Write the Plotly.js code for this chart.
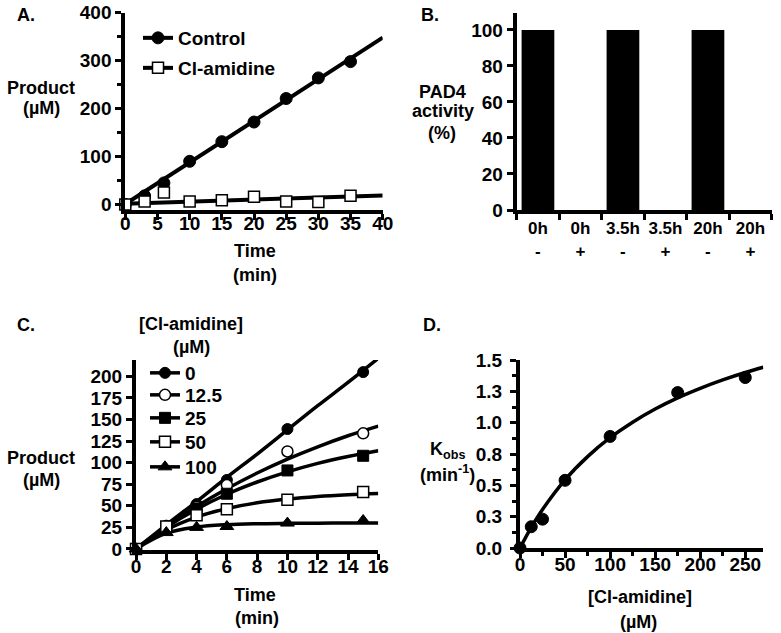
<!DOCTYPE html>
<html>
<head>
<meta charset="utf-8">
<script src="https://cdn.plot.ly/plotly-3.0.1.min.js"></script>
<style>
  html, body { margin: 0; padding: 0; background: #fff; }
  #fig { width: 781px; height: 633px; }
</style>
</head>
<body>
<div id="fig"></div>
<script>
    // Panel A: product vs time
    const timeA = [0, 3, 6, 10, 15, 20, 25, 30, 35];
    const controlA = [0, 18, 45, 90, 131, 172, 221, 264, 298];
    const clamidineA = [0, 6, 25, 6, 9, 16, 6, 5, 18];
    const fitTimeA = [0, 40];
    const controlFitA = [1, 348];
    const clamidineFitA = [1.5, 19];

    // Panel B: PAD4 activity
    const groupsB = ['0h', '0h', '3.5h', '3.5h', '20h', '20h'];
    const signB = ['-', '+', '-', '+', '-', '+'];
    const activityB = [100, 0, 100, 0, 100, 0];

    // Panel C: product vs time at several [Cl-amidine]
    const timeC = [0, 2, 4, 6, 10, 15];
    const doseC = ['0', '12.5', '25', '50', '100'];
    const prod0 = [0, 27, 52, 80, 139, 205];
    const prod12 = [0, 26, 49, 74, 113, 134];
    const prod25 = [0, 25, 47, 64, 91, 108];
    const prod50 = [0, 26, 39, 46, 57, 66];
    const prod100 = [0, 19, 25, 26, 30, 33];
    const fitTimeC = [0, 2, 4, 6, 8, 10, 12, 14, 16];
    const fit0 = [0, 28, 55, 83, 110, 138, 166, 193, 221];
    const fit12 = [0, 26.1, 49.3, 69.8, 88.0, 104.1, 118.4, 131.2, 142.4];
    const fit25 = [0, 25.2, 46.1, 63.4, 77.6, 89.4, 99.2, 107.2, 113.9];
    const fit50 = [0, 22.1, 36.9, 46.8, 53.5, 57.9, 60.9, 62.9, 64.3];
    const fit100 = [0, 18.3, 25.4, 28.2, 29.3, 29.7, 29.9, 30.0, 30.0];

    // Panel D: kobs vs [Cl-amidine]
    const inhD = [0, 12.5, 25, 50, 100, 175, 250];
    const kobsD = [0, 0.17, 0.23, 0.54, 0.89, 1.24, 1.36];
    const fitInhD = [0, 12.5, 25, 50, 75, 100, 125, 150, 175, 200, 225, 250, 270];
    const fitKobsD = [0, 0.165, 0.308, 0.544, 0.729, 0.88, 1.004, 1.109, 1.198, 1.274, 1.341, 1.40, 1.442];
    const tickValsD = [0, 0.25, 0.5, 0.75, 1.0, 1.25, 1.5];
    const tickTextD = ['0.0', '0.3', '0.5', '0.8', '1.0', '1.3', '1.5'];

    const W = 781, H = 633;
    const px = v => v / W;
    const py = v => 1 - v / H;
    const FONT = 'Liberation Sans, Arial, sans-serif';

    const filled = (symbol, size) => ({ symbol: symbol, size: size, color: 'black', line: { color: 'black', width: 1 } });
    const open = (symbol, size) => ({ symbol: symbol, size: size, color: 'white', line: { color: 'black', width: 1.5 } });

    function axis(extra) {
        return Object.assign({
            showline: true, linecolor: 'black', linewidth: 4,
            ticks: 'outside', tickcolor: 'black', tickwidth: 3, ticklen: 6,
            showgrid: false, zeroline: false, fixedrange: true,
            tickfont: { family: FONT, size: 19, color: 'black', weight: 'bold' }
        }, extra);
    }

    const traces = [];

    // A
    traces.push({ x: fitTimeA, y: controlFitA, mode: 'lines', line: { color: 'black', width: 4 }, xaxis: 'x', yaxis: 'y', showlegend: false, hoverinfo: 'skip' });
    traces.push({ x: fitTimeA, y: clamidineFitA, mode: 'lines', line: { color: 'black', width: 4 }, xaxis: 'x', yaxis: 'y', showlegend: false, hoverinfo: 'skip' });
    traces.push({ x: timeA, y: controlA, mode: 'markers', marker: filled('circle', 12), xaxis: 'x', yaxis: 'y', showlegend: false, cliponaxis: false });
    traces.push({ x: timeA, y: clamidineA, mode: 'markers', marker: open('square', 11), xaxis: 'x', yaxis: 'y', showlegend: false, cliponaxis: false });
    traces.push({ x: [null], y: [null], name: 'Control', mode: 'lines+markers', line: { color: 'black', width: 4 }, marker: filled('circle', 12), xaxis: 'x', yaxis: 'y', legend: 'legend' });
    traces.push({ x: [null], y: [null], name: 'Cl-amidine', mode: 'lines+markers', line: { color: 'black', width: 4 }, marker: open('square', 11), xaxis: 'x', yaxis: 'y', legend: 'legend2' });

    // B
    traces.push({ x: activityB.map((_, i) => i), y: activityB, type: 'bar', width: 0.77, marker: { color: 'black' }, xaxis: 'x2', yaxis: 'y2', showlegend: false });

    // C
    const fitsC = [fit0, fit12, fit25, fit50, fit100];
    const prodsC = [prod0, prod12, prod25, prod50, prod100];
    const markersC = [filled('circle', 11), open('circle', 11), filled('square', 11), open('square', 11), filled('triangle-up', 12)];
    fitsC.forEach(f => traces.push({ x: fitTimeC, y: f, mode: 'lines', line: { color: 'black', width: 3.5, shape: 'spline' }, xaxis: 'x3', yaxis: 'y3', showlegend: false, hoverinfo: 'skip' }));
    prodsC.forEach((p, i) => traces.push({ x: timeC, y: p, mode: 'markers', marker: markersC[i], xaxis: 'x3', yaxis: 'y3', showlegend: false, cliponaxis: false }));
    doseC.forEach((d, i) => traces.push({ x: [null], y: [null], name: d, mode: 'lines+markers', line: { color: 'black', width: 3.5 }, marker: markersC[i], xaxis: 'x3', yaxis: 'y3', legend: 'legend' + (i + 3) }));

    // D
    traces.push({ x: fitInhD, y: fitKobsD, mode: 'lines', line: { color: 'black', width: 3.5, shape: 'spline' }, xaxis: 'x4', yaxis: 'y4', showlegend: false, hoverinfo: 'skip' });
    traces.push({ x: inhD, y: kobsD, mode: 'markers', marker: filled('circle', 12), xaxis: 'x4', yaxis: 'y4', showlegend: false, cliponaxis: false });

    const ann = (x, y, text, size) => ({
        xref: 'paper', yref: 'paper', x: px(x), y: py(y), text: text, showarrow: false,
        xanchor: 'center', yanchor: 'middle', align: 'center',
        font: { family: FONT, size: size || 18, color: 'black', weight: 'bold' }
    });

    const legendFont = { family: FONT, size: 19, color: 'black', weight: 'bold' };
    const leg = (x, y) => ({ x: px(x), y: py(y), xanchor: 'left', yanchor: 'middle', bgcolor: 'rgba(0,0,0,0)', font: legendFont });

    const layout = {
        width: W, height: H,
        margin: { l: 0, r: 0, t: 0, b: 0 },
        paper_bgcolor: 'white', plot_bgcolor: 'white',
        font: { family: FONT, color: 'black', weight: 'bold' },
        xaxis: axis({ domain: [px(125.3), px(382.7)], range: [0, 40], tick0: 0, dtick: 5, anchor: 'y', ticklabelstandoff: -13 }),
        yaxis: axis({ domain: [py(210), py(12.7)], range: [-11.5, 400], tick0: 0, dtick: 100, anchor: 'x',
            minor: { ticks: 'outside', dtick: 50, ticklen: 4, tickwidth: 3, tickcolor: 'black' } }),
        xaxis2: axis({ domain: [px(516.7), px(771.7)], range: [-0.5, 5.5], anchor: 'y2', ticklabelstandoff: 0,
            tickfont: { family: FONT, size: 17, color: 'black', weight: 'bold' },
            tickmode: 'array', tickvals: groupsB.map((_, i) => i), ticktext: groupsB.map((g, i) => g + '<br>' + signB[i]), ticks: '',
            minor: { ticks: 'outside', tickmode: 'linear', tick0: 0.5, dtick: 1, ticklen: 6, tickwidth: 3, tickcolor: 'black' } }),
        yaxis2: axis({ domain: [py(210), py(13)], range: [0, 109.4], tick0: 0, dtick: 20, anchor: 'x2' }),
        xaxis3: axis({ domain: [px(136), px(378.3)], range: [0, 16], tick0: 0, dtick: 2, anchor: 'y3', ticklabelstandoff: -10 }),
        yaxis3: axis({ domain: [py(550), py(360)], range: [-1.2, 219], tick0: 0, dtick: 25, anchor: 'x3' }),
        xaxis4: axis({ domain: [px(520), px(763.3)], range: [0, 270], tick0: 0, dtick: 50, anchor: 'y4', ticklabelstandoff: -10,
            minor: { ticks: 'outside', dtick: 25, ticklen: 4, tickwidth: 3, tickcolor: 'black' } }),
        yaxis4: axis({ domain: [py(548), py(360)], range: [0, 1.5], anchor: 'x4', ticklabelstandoff: 4,
            tickmode: 'array', tickvals: tickValsD, ticktext: tickTextD,
            minor: { ticks: 'outside', tickmode: 'linear', tick0: 0, dtick: 0.125, ticklen: 4, tickwidth: 3, tickcolor: 'black' } }),
        legend: leg(138, 38),
        legend2: leg(138, 68),
        legend3: leg(145, 373),
        legend4: leg(145, 395),
        legend5: leg(145, 418),
        legend6: leg(145, 442),
        legend7: leg(145, 467),
        annotations: [
            ann(26, 15, 'A.'),
            ann(430, 15, 'B.'),
            ann(26, 325, 'C.'),
            ann(432, 325, 'D.'),
            ann(41, 88, 'Product'),
            ann(41, 108, '(µM)'),
            ann(255, 251, 'Time'),
            ann(255, 275, '(min)'),
            ann(442, 92, 'PAD4'),
            ann(443, 111, 'activity'),
            ann(442, 133, '(%)'),
            ann(191, 324, '[Cl-amidine]'),
            ann(191, 347, '(µM)'),
            ann(41, 458, 'Product'),
            ann(41, 480, '(µM)'),
            ann(255, 595, 'Time'),
            ann(257, 618, '(min)'),
            ann(447, 451, 'K<sub>obs</sub>'),
            ann(447, 473, '(min<sup>-1</sup>)'),
            ann(640, 597, '[Cl-amidine]'),
            ann(638, 622, '(µM)')
        ],
        showlegend: true
    };

    Plotly.newPlot('fig', traces, layout, { displayModeBar: false, staticPlot: true });
</script>
</body>
</html>
